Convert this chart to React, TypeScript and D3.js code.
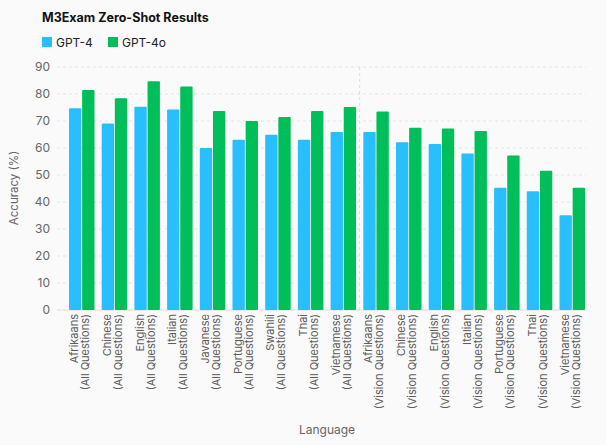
import React from 'react';
import * as d3 from 'd3';

const languages = [
  'Afrikaans', 'Chinese', 'English', 'Italian', 'Javanese', 'Portuguese', 'Swahili', 'Thai', 'Vietnamese',
  'Afrikaans', 'Chinese', 'English', 'Italian', 'Portuguese', 'Thai', 'Vietnamese',
];
const subsets = [
  'All', 'All', 'All', 'All', 'All', 'All', 'All', 'All', 'All',
  'Vision', 'Vision', 'Vision', 'Vision', 'Vision', 'Vision', 'Vision',
];
const gpt4 = [74.7, 69.1, 75.3, 74.3, 60.0, 63.1, 64.9, 63.1, 65.9, 65.9, 62.1, 61.5, 58.0, 45.3, 44.0, 35.1];
const gpt4o = [81.5, 78.4, 84.7, 82.8, 73.7, 70.0, 71.5, 73.7, 75.2, 73.5, 67.5, 67.2, 66.3, 57.2, 51.6, 45.3];
const yTicks = [0, 10, 20, 30, 40, 50, 60, 70, 80, 90];

const seriesNames = ['GPT-4', 'GPT-4o'];
const colors = ['#29befd', '#00bf5a'];

const W = 606;
const H = 445;
const left = 57;
const top = 67;
const bottom = 310;
const right = 588.6;

export default function App() {
  const ids = languages.map((_, i) => String(i));
  const x = d3.scaleBand<string>().domain(ids).range([65.4, right]).paddingInner(0.22).paddingOuter(0.11);
  const sub = d3.scaleBand<string>().domain(['0', '1']).range([0, x.bandwidth()]).paddingInner(0.06);
  const y = d3.scaleLinear().domain([0, 90]).range([bottom, top]);
  const font = 'Inter, "Noto Sans", sans-serif';
  const sepX = (x('8')! + x('9')! + x.bandwidth()) / 2;

  return (
    <svg width={W} height={H} style={{ position: 'absolute', left: 0, top: 0, background: '#fafafa' }} fontFamily={font}>
      <rect width={W} height={H} fill="#fafafa" />
      <text x={42} y={22} fontSize={12.5} fontWeight={700} fill="#111">M3Exam Zero-Shot Results</text>
      {seriesNames.map((s, i) => (
        <g key={s} transform={`translate(${42 + i * 66},37)`}>
          <rect width={10} height={10} fill={colors[i]} />
          <text x={14} y={9.5} fontSize={12} fill="#222">{s}</text>
        </g>
      ))}

      {yTicks.map((t) => (
        <g key={t}>
          <line x1={left} x2={586} y1={y(t)} y2={y(t)} stroke="#e4e4e4" strokeDasharray="3 3" />
          <text x={50} y={y(t)} dy="0.35em" textAnchor="end" fontSize={12} fill="#666">{t}</text>
        </g>
      ))}
      <line x1={sepX} x2={sepX} y1={top} y2={bottom} stroke="#dcdcdc" strokeDasharray="3 3" />
      <line x1={left} x2={586} y1={bottom} y2={bottom} stroke="#e2e2e2" />

      {ids.map((id, i) => (
        <g key={id} transform={`translate(${x(id)},0)`}>
          {[gpt4[i], gpt4o[i]].map((v, k) => (
            <rect
              key={k}
              x={sub(String(k))}
              y={y(v)}
              width={sub.bandwidth()}
              height={bottom - y(v)}
              fill={colors[k]}
              rx={1}
            />
          ))}
        </g>
      ))}

      {ids.map((id, i) => {
        const cx = x(id)! + x.bandwidth() / 2;
        return (
          <g key={'l' + id} fontSize={11} fill="#5c5c5c">
            <text transform={`translate(${cx - 7.5},314) rotate(-90)`} textAnchor="end" dy="0.35em">{languages[i]}</text>
            <text transform={`translate(${cx + 3.5},314) rotate(-90)`} textAnchor="end" dy="0.35em">{`(${subsets[i]} Questions)`}</text>
          </g>
        );
      })}

      <text transform="translate(18,188) rotate(-90)" textAnchor="middle" fontSize={11.5} fill="#666">Accuracy (%)</text>
      <text x={327} y={434} textAnchor="middle" fontSize={12} fill="#666">Language</text>
    </svg>
  );
}
